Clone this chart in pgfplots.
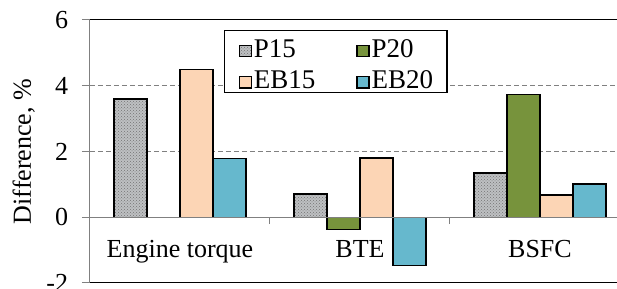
\documentclass[border=0pt]{standalone}
\usepackage{fontspec}
\setmainfont{Liberation Serif}
\usepackage{pgfplots}
\pgfplotsset{compat=1.18}
\usetikzlibrary{calc,patterns}
\definecolor{pgray}{RGB}{190,192,194}
\definecolor{polive}{RGB}{119,147,60}
\definecolor{ppeach}{RGB}{252,213,181}
\definecolor{pteal}{RGB}{102,184,205}
\begin{document}
\fontsize{26}{30}\selectfont
\begin{tikzpicture}
\begin{axis}[
  name=ax,
  scale only axis, width=527pt, height=263pt,
  xmin=0.5, xmax=3.4278, ymin=-2, ymax=6,
  ybar=0pt, bar width=33pt,
  axis x line=middle, axis y line=left,
  hide obscured x ticks=false, hide obscured y ticks=false,
  axis line style={-, draw=gray, line width=1pt},
  tick align=outside,
  xtick={1,2,3}, xticklabels={Engine torque, BTE, BSFC},
  major x tick style={draw=none},
  minor xtick={1.5,2.5},
  minor x tick style={draw=gray, line width=1pt},
  minor tick length=7pt,
  xticklabel style={anchor=base, yshift=-32pt, font=\fontsize{26}{30}\selectfont},
  ytick={-2,0,2,4,6},
  major tick length=8pt,
  y tick style={draw=gray, line width=1pt},
  yticklabel style={xshift=-5pt, font=\fontsize{26}{30}\selectfont},
  /pgf/number format/assume math mode=true,
  ymajorgrids,
  major grid style={gray, line width=1pt, dash pattern=on 5pt off 3pt},
  ylabel={Difference, \%},
  ylabel style={at={(rel axis cs:-0.112,0.5)}, anchor=base, font=\fontsize{26}{30}\selectfont},
  every axis plot/.append style={draw=black, line width=1.3pt},
  legend columns=2,
  legend cell align=left,
  legend style={at={(rel axis cs:0.2543,0.963)}, anchor=north west,
    draw=black, line width=1.3pt, font=\fontsize{27}{30}\selectfont,
    inner xsep=14pt, inner ysep=4pt, row sep=8pt, column sep=2pt,
    nodes={inner sep=0pt, text height=23pt, text depth=0pt},
    /tikz/every even column/.append style={column sep=41pt}},
  legend image code/.code={\draw[#1, line width=1.2pt, draw=black] (0pt,-11pt) rectangle (12pt,0.5pt);},
]
\addplot[fill=pgray, postaction={pattern=crosshatch dots, pattern color=black!55}] coordinates {(1,3.6) (2,0.71) (3,1.35)};
\addplot[fill=polive] coordinates {(2,-0.37) (3,3.73)};
\addplot[fill=ppeach] coordinates {(1,4.5) (2,1.8) (3,0.68)};
\addplot[fill=pteal] coordinates {(1,1.79) (2,-1.46) (3,1.01)};
\legend{P15, P20, EB15, EB20}
\draw[gray, line width=1pt] (axis cs:0.5,0) -- (axis cs:3.4278,0);
\draw[black, line width=1pt] (rel axis cs:0,0) -- (rel axis cs:1,0);
\draw[black, line width=1pt] (rel axis cs:0,1) -- (rel axis cs:1,1);
\end{axis}
\pgfresetboundingbox
\path[use as bounding box] ($(ax.south west)+(-90pt,-6pt)$) rectangle ($(ax.north east)+(0pt,20pt)$);
\end{tikzpicture}
\end{document}
